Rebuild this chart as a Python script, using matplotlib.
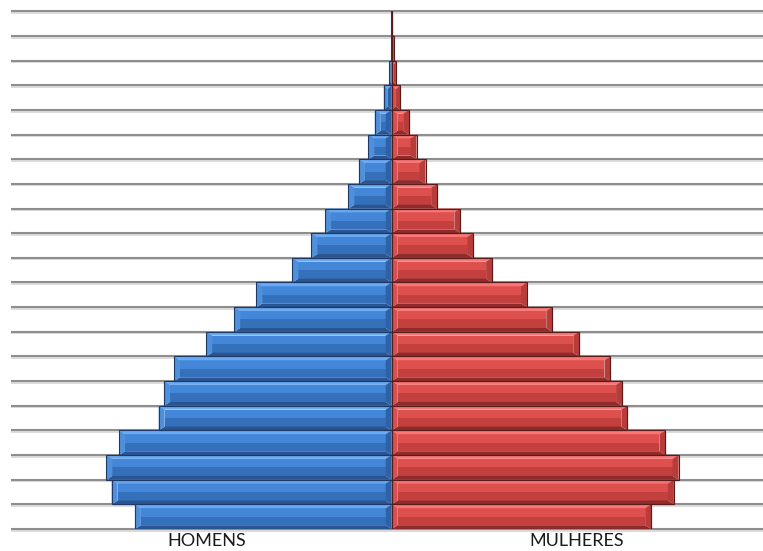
import matplotlib
matplotlib.use('Agg')
import matplotlib.pyplot as plt
import numpy as np
from matplotlib.patches import Polygon
import matplotlib.transforms as mtransforms

# ---------------- data (percent of population) ----------------
age_groups = ['0-4', '5-9', '10-14', '15-19', '20-24', '25-29', '30-34', '35-39',
              '40-44', '45-49', '50-54', '55-59', '60-64', '65-69', '70-74',
              '75-79', '80-84', '85-89', '90-94', '95-99', '100+']
homens = [4.86, 5.30, 5.40, 5.16, 4.41, 4.31, 4.12, 3.51, 2.98, 2.56, 1.88,
          1.52, 1.26, 0.82, 0.62, 0.44, 0.32, 0.15, 0.05, 0.013, 0.006]
mulheres = [4.91, 5.34, 5.43, 5.18, 4.46, 4.36, 4.14, 3.55, 3.04, 2.56, 1.90,
            1.54, 1.30, 0.86, 0.64, 0.47, 0.33, 0.16, 0.08, 0.04, 0.013]
sex_labels = ['HOMENS', 'MULHERES']
label_pos = [-3.5, 3.5]

# ---------------- figure ----------------
W, H = 763, 551
fig = plt.figure(figsize=(W / 100, H / 100), dpi=100)
fig.patch.set_facecolor('white')
ax_w, ax_h = 761.4, 517.7
ax = fig.add_axes([11 / W, 22 / H, ax_w / W, ax_h / H])
XL = 7.205
n = len(age_groups)
ax.set_xlim(-XL, XL)
ax.set_ylim(-0.5, n - 0.5)
ax.axis('off')

sx = 2 * XL / ax_w   # data per pixel (x)
sy = n / ax_h        # data per pixel (y)

# gridlines with soft shadow
gy = np.arange(n + 1) - 0.5
shadow_tr = mtransforms.offset_copy(ax.transData, fig=fig, x=0, y=-1.6, units='dots')
ax.hlines(gy, -XL, XL, colors='#dcdcdc', lw=1.4, zorder=0, transform=shadow_tr, clip_on=False)
ax.hlines(gy, -XL, XL, colors='#8e8e8e', lw=1.5, zorder=0.5, clip_on=False)

y = np.arange(n)

styles = {
    'm': dict(light='#6aaaf2', midtop='#4487d8', midbot='#3571bb', dark='#2a5592',
              outer='#4f90dc', inner='#2e62a4', edge='#1d3a66'),
    'f': dict(light='#f87676', midtop='#de504d', midbot='#c3403e', dark='#8f2b2a',
              outer='#b83c3a', inner='#d45250', edge='#5a1c1b'),
}


def bevel_bar(v, yc, st, outer_left):
    left, right = min(0, v), max(0, v)
    top, bot = yc + 0.5, yc - 0.5
    bx = min(6.0 * sx, (right - left) / 2)
    by = 3.8 * sy
    z = 2
    polys = [
        ([(left + bx, top - by), (right - bx, top - by), (right - bx, yc), (left + bx, yc)], st['midtop']),
        ([(left + bx, yc), (right - bx, yc), (right - bx, bot + by), (left + bx, bot + by)], st['midbot']),
        ([(left, top), (right, top), (right - bx, top - by), (left + bx, top - by)], st['light']),
        ([(left, bot), (right, bot), (right - bx, bot + by), (left + bx, bot + by)], st['dark']),
        ([(left, top), (left + bx, top - by), (left + bx, bot + by), (left, bot)],
         st['outer'] if outer_left else st['inner']),
        ([(right, top), (right - bx, top - by), (right - bx, bot + by), (right, bot)],
         st['inner'] if outer_left else st['outer']),
    ]
    for pts, c in polys:
        ax.add_patch(Polygon(pts, closed=True, facecolor=c, edgecolor='none', zorder=z))


# soft shadow behind bars
sh_tr = mtransforms.offset_copy(ax.transData, fig=fig, x=1.5, y=-1.5, units='dots')
ax.barh(y, -np.array(homens), height=1.0, color='#000000', alpha=0.06, zorder=1,
        transform=sh_tr)
ax.barh(y, np.array(mulheres), height=1.0, color='#000000', alpha=0.06, zorder=1,
        transform=sh_tr)

for yi, v in zip(y, homens):
    bevel_bar(-v, yi, styles['m'], outer_left=True)
for yi, v in zip(y, mulheres):
    bevel_bar(v, yi, styles['f'], outer_left=False)

# outlines
ax.barh(y, -np.array(homens), height=1.0, fill=False, edgecolor=styles['m']['edge'],
        lw=0.8, zorder=3)
ax.barh(y, np.array(mulheres), height=1.0, fill=False, edgecolor=styles['f']['edge'],
        lw=0.8, zorder=3)

# bottom labels
lab_tr = mtransforms.blended_transform_factory(ax.transData, ax.transAxes)
for lx, txt in zip(label_pos, sex_labels):
    ax.text(lx, -12.5 / ax_h, txt, transform=lab_tr, ha='center', va='center',
            fontsize=13, family=['Lato', 'DejaVu Sans'], color='#1a1a1a', clip_on=False)

fig.savefig('out.png', dpi=100, facecolor='white')
